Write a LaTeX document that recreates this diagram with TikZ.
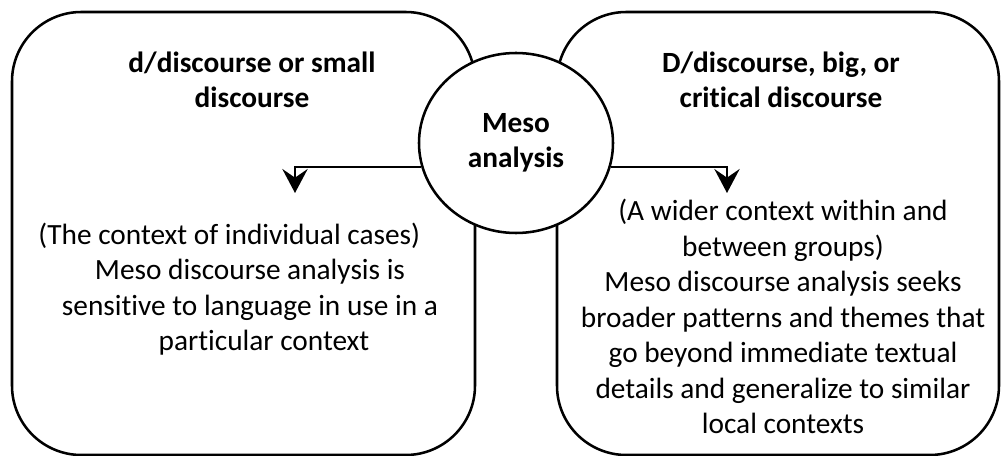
\documentclass[tikz,border=0pt]{standalone}
\usepackage{fontspec}
\setmainfont{Carlito}[Ligatures=NoCommon]
\usetikzlibrary{arrows.meta,shapes.geometric}
\begin{document}
\begin{tikzpicture}[x=0.75pt,y=-0.75pt,
  panel/.style={draw, line width=1.9pt, rounded corners=52pt,
    minimum width=#1, minimum height=332.25pt, inner sep=0pt},
  txt/.style={font=\fontsize{22}{26.6}\selectfont, align=center, inner sep=0pt},
  ttl/.style={txt, font=\fontsize{22}{26.6}\selectfont\bfseries},
  hub/.style={ellipse, draw, fill=white, line width=1.9pt,
    minimum width=145.5pt, minimum height=135pt, inner sep=0pt,
    font=\fontsize{22}{26.6}\selectfont\bfseries, align=center},
  conn/.style={line width=1.7pt,
    -{Stealth[length=18pt,width=19pt,inset=6.5pt]}}
]
\useasboundingbox (0,0) rectangle (1001,456);

% the two discourse panels
\node[panel=347.25pt] (small) at (243.5,233.5) {};
\node[panel=331.5pt] (big) at (778,233.5) {};

% panel titles
\node[ttl] (smallttl) at (252,80) {d/discourse or small\\discourse};
\node[ttl] (bigttl) at (781,80) {D/discourse, big, or\\critical discourse};

% panel descriptions
\node[txt] (smalltxt) at (250,289) {(The context of individual cases)\hspace*{31pt}\\
  Meso discourse analysis is\\
  sensitive to language in use in a\\
  \hspace*{21pt}particular context};
\node[txt] (bigtxt) at (783,316.5) {(A wider context within and\\
  between groups)\\
  Meso discourse analysis seeks\\
  broader patterns and themes that\\
  go beyond immediate textual\\
  details and generalize to similar\\
  local contexts};

% central hub
\node[hub] (meso) at (516,143) {Meso\\analysis};

% connectors from the hub down into each panel
\coordinate (ltip) at (295,193);
\coordinate (rtip) at (727,193);
\draw[conn] (meso.194) -| (ltip);
\draw[conn] (meso.-14) -| (rtip);
\end{tikzpicture}
\end{document}
